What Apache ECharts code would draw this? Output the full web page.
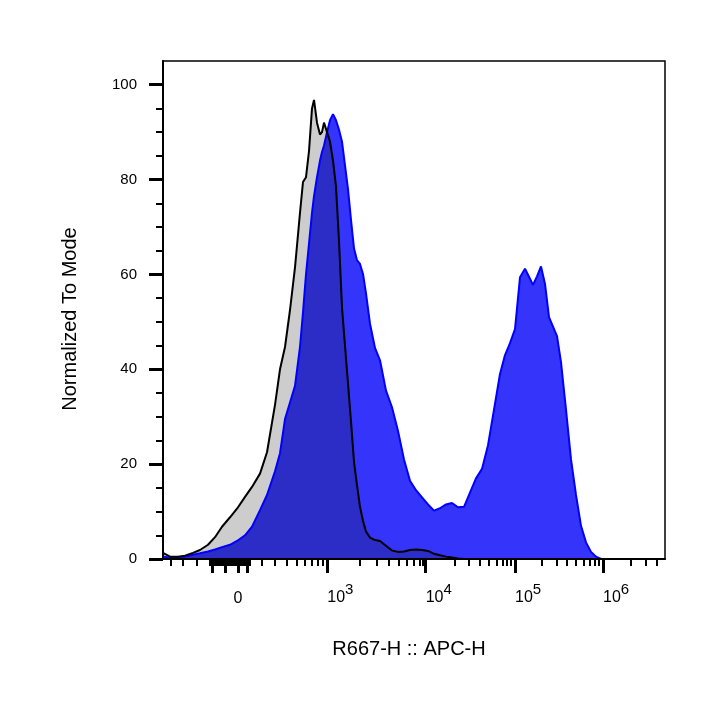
<!DOCTYPE html>
<html>
<head>
<meta charset="utf-8">
<script src="https://cdn.jsdelivr.net/npm/echarts@6/dist/echarts.min.js"></script>
<style>
    html, body { margin: 0; padding: 0; background: #fff; }
    #histChart { width: 727px; height: 714px; }
</style>
</head>
<body>
<div id="histChart"></div>
<script>
// display channels along the logicle axis (0 = left edge of the plot)
var channels = [0, 14, 30, 44, 60, 74, 90, 104, 118, 134, 148, 164, 178, 194, 208, 224, 234, 244, 254, 264,
    274, 280, 286, 292, 298, 302, 308, 314, 318, 322, 328, 334, 340, 346, 352, 358, 364, 370, 376, 382,
    388, 394, 400, 406, 414, 424, 434, 446, 458, 470, 482, 494, 506, 518, 530, 542, 554, 566, 578, 590,
    602, 614, 626, 638, 650, 662, 674, 684, 694, 704, 714, 724, 732, 740, 748, 756, 764, 772, 780, 788,
    796, 806, 816, 826, 836, 846, 856, 866, 876, 894, 924, 954, 984, 1004];

// unstained control (grey, black outline), % of mode
var controlCounts = [1.3, 0.5, 0.5, 0.7, 1.3, 1.9, 3.0, 4.6, 6.8, 8.8, 10.6, 13.1, 15.2, 18, 22.5, 32.5, 40, 44.7, 52.5, 61.5,
    73, 79.5, 80.5, 86, 95, 96.8, 92, 89.5, 90, 92, 90, 88, 84, 78.5, 67, 53, 45, 37, 29, 20.5,
    15.5, 11, 8, 5.8, 4.5, 4.0, 3.8, 2.8, 1.8, 1.5, 1.6, 1.9, 2.0, 1.9, 1.7, 1.1, 0.8, 0.5, 0.3, 0.1,
    0, 0, 0, 0, 0, 0, 0, 0, 0, 0, 0, 0, 0, 0, 0, 0, 0, 0, 0, 0,
    0, 0, 0, 0, 0, 0, 0, 0, 0, 0, 0, 0, 0, 0];

// stained sample (blue), % of mode
var sampleCounts = [0.5, 0.3, 0.3, 0.5, 0.9, 1.2, 1.6, 2.0, 2.5, 3.0, 3.8, 5.0, 6.8, 10.3, 13.5, 18.5, 22.3, 29.5, 33, 36.5,
    44.7, 52, 60, 66.5, 73, 76.5, 80.5, 84, 85.8, 87.2, 90, 92.5, 93.8, 92.5, 90.5, 88, 83, 78, 71.5, 65.5,
    63, 62.2, 60.1, 56, 49.6, 44.5, 41.9, 35.5, 32, 27, 21, 16.5, 14.5, 13, 11.5, 10.2, 10.7, 11.5, 11.8, 10.9,
    11, 14, 17, 19, 24, 31.5, 39, 43, 45.5, 48.5, 59.4, 61.2, 59.5, 57.8, 59.6, 61.7, 58, 51, 49, 47,
    41.5, 31.5, 21, 13.5, 7, 3.5, 1.5, 0.5, 0, 0, 0, 0, 0, 0];

// axis ticks (in display channels)
var xMajorTicks = [98, 124, 150, 168, 328.6, 525.4, 704, 880];
var xMinorTicks = [16, 40, 68,
    94, 98, 102, 106, 110, 114, 118, 122, 126, 130, 134, 138, 142, 146, 150, 154, 158, 162, 166, 170, 174,
    198, 224, 248, 268, 284, 298, 310, 320,
    394, 428, 452, 472, 488, 502, 514, 520,
    584, 612, 634, 652, 668, 680, 688, 696,
    757, 788, 808, 826, 841, 853, 863, 872,
    935, 966, 988];
var zeroTick = 150;
var decadeTicks = [328.6, 525.4, 704, 880];
var decadeExponents = ['3', '4', '5', '6'];
var yMajorTicks = [0, 20, 40, 60, 80, 100];
var yMinorTicks = [5, 10, 15, 25, 30, 35, 45, 50, 55, 65, 70, 75, 85, 90, 95];

var FONT = '"Liberation Sans", Arial, sans-serif';

function pairs(values) {
    return channels.map(function (c, i) { return [c, values[i]]; });
}

var overlapCounts = controlCounts.map(function (v, i) { return Math.min(v, sampleCounts[i]); });

var chart = echarts.init(document.getElementById('histChart'));

var option = {
    animation: false,
    grid: {
        left: 163, right: 62, top: 61, bottom: 155,
        show: true, borderColor: '#000', borderWidth: 1.5
    },
    xAxis: [{
        type: 'value', min: 0, max: 1004, position: 'bottom', z: 10,
        axisLine: {lineStyle: {color: '#000', width: 2}},
        axisTick: {customValues: xMajorTicks, length: 14, lineStyle: {color: '#000', width: 3}},
        axisLabel: {
            customValues: decadeTicks,
            align: 'left',
            margin: 23,
            formatter: function (v) {
                var best = 0;
                for (var i = 1; i < decadeTicks.length; i++) {
                    if (Math.abs(decadeTicks[i] - v) < Math.abs(decadeTicks[best] - v)) best = i;
                }
                return '{b|10}{s|' + decadeExponents[best] + '}';
            },
            rich: {
                b: {fontFamily: FONT, fontSize: 16, color: '#000', verticalAlign: 'bottom', lineHeight: 24},
                s: {fontFamily: FONT, fontSize: 15, color: '#000', verticalAlign: 'top', lineHeight: 15}
            }
        },
        splitLine: {show: false},
        name: 'R667-H :: APC-H',
        nameLocation: 'middle',
        nameGap: 80,
        nameTextStyle: {fontFamily: FONT, fontSize: 20, color: '#000', padding: [0, 10, 0, 0]}
    }, {
        type: 'value', min: 0, max: 1004, position: 'bottom', z: 10,
        axisLine: {show: false},
        axisTick: {customValues: xMinorTicks, length: 7, lineStyle: {color: '#000', width: 2}},
        axisLabel: {
            customValues: [zeroTick],
            formatter: function () { return '0'; },
            margin: 32,
            fontFamily: FONT, fontSize: 16, color: '#000'
        },
        splitLine: {show: false}
    }],
    yAxis: [{
        type: 'value', min: 0, max: 105, position: 'left', z: 10,
        axisLine: {show: true, lineStyle: {color: '#000', width: 2}},
        axisTick: {customValues: yMajorTicks, length: 14, lineStyle: {color: '#000', width: 3}},
        axisLabel: {customValues: yMajorTicks, margin: 26, fontFamily: FONT, fontSize: 15, color: '#000'},
        splitLine: {show: false},
        name: 'Normalized To Mode',
        nameLocation: 'middle',
        nameGap: 83,
        nameTextStyle: {fontFamily: FONT, fontSize: 20, color: '#000', padding: [0, 18, 0, 0]}
    }, {
        type: 'value', min: 0, max: 105, position: 'left', offset: 0, z: 10,
        axisLine: {show: false},
        axisTick: {customValues: yMinorTicks, length: 7, lineStyle: {color: '#000', width: 2}},
        axisLabel: {show: false},
        splitLine: {show: false}
    }],
    series: [{
        name: 'control fill', type: 'line', symbol: 'none', silent: true,
        lineStyle: {width: 0},
        areaStyle: {color: '#cdcdcd', opacity: 1},
        data: pairs(controlCounts)
    }, {
        name: 'sample fill', type: 'line', symbol: 'none', silent: true,
        lineStyle: {width: 0},
        areaStyle: {color: '#3434fa', opacity: 1},
        data: pairs(sampleCounts)
    }, {
        name: 'overlap', type: 'line', symbol: 'none', silent: true,
        lineStyle: {width: 0},
        areaStyle: {color: '#2c2cc6', opacity: 1},
        data: pairs(overlapCounts)
    }, {
        name: 'sample', type: 'line', symbol: 'none', silent: true,
        lineStyle: {color: '#0000ff', width: 2},
        data: pairs(sampleCounts)
    }, {
        name: 'control', type: 'line', symbol: 'none', silent: true,
        lineStyle: {color: '#000', width: 2},
        data: pairs(controlCounts)
    }]
};

chart.setOption(option);
</script>
</body>
</html>
